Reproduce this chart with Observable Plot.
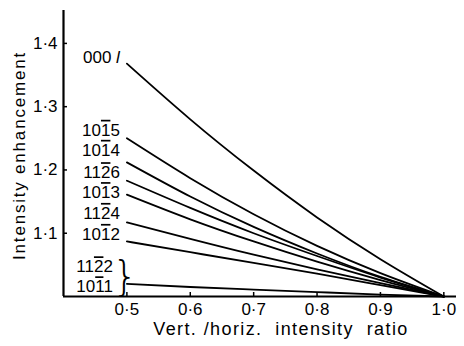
<!DOCTYPE html>
<html><head><meta charset="utf-8">
<script src="https://cdn.jsdelivr.net/npm/d3@7"></script>
<script src="https://cdn.jsdelivr.net/npm/@observablehq/plot@0.6"></script>
<style>body{margin:0;background:#fff;} svg{display:block;}</style>
</head><body><div id="chart"></div>
<script>
// ---- data ----
const ratio = [0.5, 0.6, 0.7, 0.8, 0.9, 1.0];
const seriesNames = ["0001", "10-15", "10-14", "11-26", "10-13", "11-24", "10-12", "10-11"];
const v0001 = [1.368, 1.280, 1.199, 1.125, 1.059, 1.000];
const v1015 = [1.250, 1.187, 1.130, 1.080, 1.037, 1.000];
const v1014 = [1.212, 1.158, 1.110, 1.068, 1.031, 1.000];
const v1126 = [1.183, 1.140, 1.100, 1.064, 1.030, 1.000];
const v1013 = [1.161, 1.122, 1.087, 1.055, 1.026, 1.000];
const v1124 = [1.117, 1.091, 1.066, 1.043, 1.021, 1.000];
const v1012 = [1.087, 1.070, 1.053, 1.036, 1.018, 1.000];
const v1011 = [1.020, 1.015, 1.011, 1.007, 1.003, 1.000];
const curveLabels = ["000 l", "101\u03055", "101\u03054", "112\u03056", "101\u03053", "112\u03054", "101\u03052"];
const bracedLabels = ["112\u03052", "101\u03051"]; // both share the bottom curve
const xTicks = [0.5, 0.6, 0.7, 0.8, 0.9, 1.0];
const xTickLabels = ["0·5", "0·6", "0·7", "0·8", "0·9", "1·0"];
const yTicks = [1.1, 1.2, 1.3, 1.4];
const yTickLabels = ["1·1", "1·2", "1·3", "1·4"];
const xTitle = "Vert.\u00a0/horiz.\u00a0\u00a0intensity\u00a0\u00a0ratio";
const yTitle = "Intensity enhancement";

// ---- build ----
const allValues = [v0001, v1015, v1014, v1126, v1013, v1124, v1012, v1011];
const rows = seriesNames.flatMap((s, i) => ratio.map((x, j) => ({series: s, x, y: allValues[i][j]})));
const labelDy = [-6, -8, -12, -8, -2, -9, -7];
const bracedDy = [-17, 3];
const FONT = 17;

const labelMarks = curveLabels.map((lab, i) =>
  Plot.text([{x: ratio[0], y: allValues[i][0], lab}], {
    x: "x", y: "y", text: "lab", textAnchor: "end", dx: -7, dy: labelDy[i], fontSize: FONT
  }));
const bracedMarks = bracedLabels.map((lab, i) =>
  Plot.text([{x: ratio[0], y: v1011[0], lab}], {
    x: "x", y: "y", text: "lab", textAnchor: "end", dx: -14, dy: bracedDy[i], fontSize: FONT
  }));

const plot = Plot.plot({
  width: 464, height: 346,
  marginLeft: 63, marginRight: 8, marginTop: 10, marginBottom: 50,
  style: {fontFamily: "Liberation Sans, Arial, sans-serif", fontSize: FONT + "px", color: "#000", background: "#fff"},
  x: {domain: [0.4, 1.02]},
  y: {domain: [1.0, 1.452]},
  marks: [
    Plot.axisX(xTicks, {tickSize: 0, tickPadding: 6, label: null, tickFormat: d => xTickLabels[xTicks.indexOf(d)], fontSize: FONT}),
    Plot.axisY(yTicks, {tickSize: 0, tickPadding: 6, label: null, tickFormat: d => yTickLabels[yTicks.indexOf(d)], fontSize: FONT}),
    Plot.tickX(xTicks, {x: d => d, insetTop: 282, strokeWidth: 1.5}),
    Plot.tickY(yTicks, {y: d => d, insetRight: 389, strokeWidth: 1.5}),
    Plot.ruleX([0.4], {strokeWidth: 2.2}),
    Plot.ruleY([1.0], {strokeWidth: 2.2}),
    Plot.line(rows, {x: "x", y: "y", z: "series", curve: "natural", stroke: "#000", strokeWidth: 1.8}),
    ...labelMarks,
    ...bracedMarks,
    Plot.text([{x: ratio[0], y: v1011[0]}], {x: "x", y: "y", text: () => "}", dx: -2, dy: -7, fontSize: 40, fontFamily: "DejaVu Sans", fontWeight: 200}),
    Plot.text([yTitle], {frameAnchor: "left", textAnchor: "middle", rotate: -90, dx: -44, dy: 2, fontSize: FONT}),
    Plot.text([xTitle], {frameAnchor: "bottom", textAnchor: "middle", dx: 21, dy: 38, fontSize: FONT + 1})
  ]
});
document.getElementById("chart").appendChild(plot);

// styling touches
const svgns = "http://www.w3.org/2000/svg";
plot.querySelectorAll("text").forEach(t => {
  const s = t.textContent;
  if (s === "000 l") {
    t.textContent = "000\u00a0";
    const ts = document.createElementNS(svgns, "tspan");
    ts.setAttribute("font-style", "italic");
    ts.textContent = "l";
    t.appendChild(ts);
  } else if (s.includes("\u0305")) {
    t.textContent = "";
    for (let i = 0; i < s.length; i++) {
      if (s[i + 1] === "\u0305") {
        const ts = document.createElementNS(svgns, "tspan");
        ts.textContent = s[i];
        ts.style.textDecoration = "overline";
        t.appendChild(ts);
        i++;
      } else {
        t.appendChild(document.createTextNode(s[i]));
      }
    }
  } else if (s === xTitle) {
    t.style.letterSpacing = "1.4px";
  } else if (s === yTitle) {
    t.style.letterSpacing = "1.8px";
  }
});
</script>
</body></html>
